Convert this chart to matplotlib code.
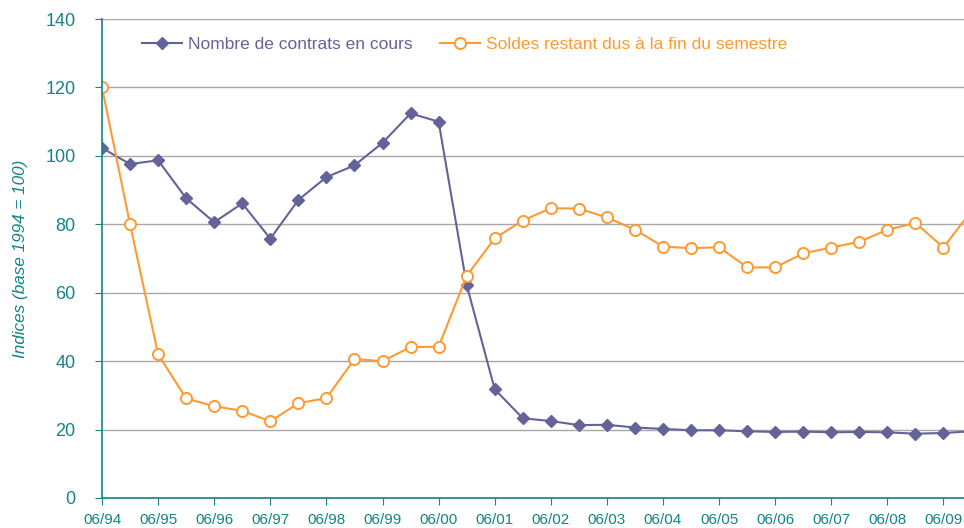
import matplotlib.pyplot as plt

plt.rcParams['font.family'] = ['Liberation Sans', 'DejaVu Sans']

# semesters from 06/94 to 12/09
semesters = list(range(32))
year_labels = ['06/94', '06/95', '06/96', '06/97', '06/98', '06/99', '06/00', '06/01',
               '06/02', '06/03', '06/04', '06/05', '06/06', '06/07', '06/08', '06/09']

contrats = [102.3, 97.6, 98.7, 87.6, 80.6, 86.1, 75.8, 87.1, 93.8, 97.2, 103.8, 112.4,
            110.0, 62.3, 31.8, 23.3, 22.5, 21.3, 21.4, 20.6, 20.2, 19.8, 19.8, 19.5,
            19.3, 19.4, 19.2, 19.3, 19.2, 18.8, 19.0, 19.5]
soldes = [120.0, 80.0, 42.0, 29.1, 26.8, 25.5, 22.4, 27.7, 29.2, 40.6, 40.0, 44.1,
          44.2, 64.9, 75.9, 81.1, 84.7, 84.6, 82.0, 78.4, 73.5, 73.0, 73.3, 67.4,
          67.4, 71.5, 73.2, 74.9, 78.4, 80.4, 73.2, 84.0]

purple = '#63639A'
orange = '#FF9A33'
teal = '#158484'

fig = plt.figure(figsize=(9.64, 5.28), dpi=100)
ax = fig.add_axes([102 / 964, 30 / 528, 862 / 964, 479 / 528])

ax.plot(semesters, contrats, color=purple, lw=1.5, marker='D', markersize=6,
        label='Nombre de contrats en cours')
ax.plot(semesters, soldes, color=orange, lw=1.5, marker='o', markersize=8,
        markerfacecolor='white', markeredgewidth=1.4,
        label='Soldes restant dus à la fin du semestre')

ax.set_ylim(0, 140)
ax.set_xlim(0, 862 / 28.05)
ax.set_yticks(range(0, 141, 20))
ax.set_xticks(range(0, 31, 2))
ax.set_xticklabels(year_labels)

ax.yaxis.grid(True, color='#A8A8A8', lw=1)
ax.set_axisbelow(True)
for s in ['top', 'right']:
    ax.spines[s].set_visible(False)
for s in ['left', 'bottom']:
    ax.spines[s].set_color(teal)
    ax.spines[s].set_linewidth(1.2)

ax.tick_params(axis='y', colors=teal, labelsize=13, length=5, pad=14)
ax.tick_params(axis='x', colors=teal, labelsize=11, length=5, pad=6)

ax.set_ylabel('Indices (base 1994 = 100)', color=teal, fontsize=12.3, style='italic')
ax.yaxis.set_label_coords(-74 / 862, 0.5)

leg = ax.legend(loc='center left', bbox_to_anchor=(0.046, 0.946), ncol=2, frameon=False,
                fontsize=12.5, handlelength=2.3, handletextpad=0.35, columnspacing=1.6,
                borderpad=0, borderaxespad=0, labelcolor=[purple, orange])

fig.savefig('out.png', dpi=100)
